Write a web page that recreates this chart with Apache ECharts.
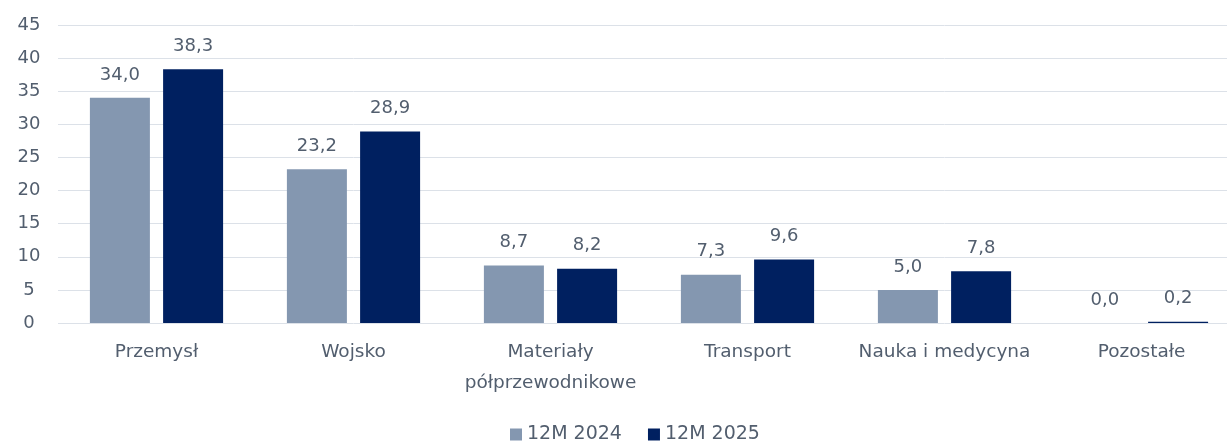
<!DOCTYPE html>
<html><head><meta charset="utf-8">
<script src="https://cdn.jsdelivr.net/npm/echarts@6/dist/echarts.min.js"></script>
<style>html,body{margin:0;padding:0;background:#fff;overflow:hidden;width:1227px;height:441px}#c{width:1240px;height:441px}</style>
</head><body><div id="c"></div>
<script>
const categories = ['Przemysł','Wojsko','Materiały\npółprzewodnikowe','Transport','Nauka i medycyna','Pozostałe'];
const series2024 = [34.0, 23.2, 8.7, 7.3, 5.0, 0.0];
const series2025 = [38.3, 28.9, 8.2, 9.6, 7.8, 0.2];
const seriesNames = ['12M 2024','12M 2025'];
const fmt = p => p.value.toFixed(1).replace('.', ',');
const font = 'DejaVu Sans, sans-serif';
const txt = '#525E6E';
const chart = echarts.init(document.getElementById('c'));
chart.setOption({
  animation:false,
  textStyle:{fontFamily:font},
  grid:{left:58,right:0,top:25,height:298},
  legend:{top:420,left:505,itemWidth:12,itemHeight:12,itemGap:26,icon:'rect',
    textStyle:{color:txt,fontSize:19,fontFamily:font},data:seriesNames},
  xAxis:{type:'category',data:categories,
    axisLine:{show:false},axisTick:{show:false},
    axisLabel:{color:txt,fontSize:18.5,fontFamily:font,margin:14,lineHeight:31,interval:0}},
  yAxis:{type:'value',min:0,max:45,interval:5,
    axisLabel:{color:txt,fontSize:18,fontFamily:font,margin:29,align:'center'},
    splitLine:{lineStyle:{color:'#DCE1E8',width:1}}},
  series:[
    {name:seriesNames[0],type:'bar',data:series2024,barWidth:60,barGap:'22%',
     itemStyle:{color:'#8497B0'},
     label:{show:true,position:'top',distance:14,color:txt,fontSize:18,fontFamily:font,formatter:fmt}},
    {name:seriesNames[1],type:'bar',data:series2025,barWidth:60,
     itemStyle:{color:'#002060'},
     label:{show:true,position:'top',distance:14,color:txt,fontSize:18,fontFamily:font,formatter:fmt}}
  ]
});
</script></body></html>
